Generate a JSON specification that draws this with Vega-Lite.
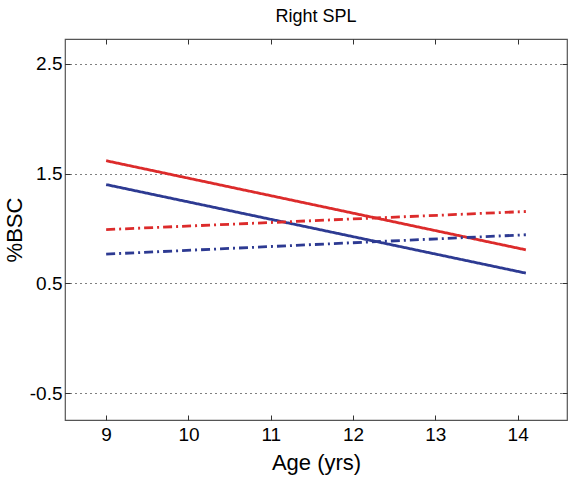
{
  "$schema": "https://vega.github.io/schema/vega-lite/v6.json",
  "width": 502,
  "height": 381,
  "autosize": {"type": "none"},
  "padding": {"left": 65, "top": 39, "right": 9, "bottom": 62},
  "background": "white",
  "title": {"text": "Right SPL", "anchor": "middle", "fontSize": 18, "fontWeight": "normal", "font": "Liberation Sans", "color": "black", "offset": 13},
  "config": {
    "font": "Liberation Sans",
    "view": {"stroke": "#555555", "strokeWidth": 1.2},
    "axis": {"domain": false, "labelFont": "Liberation Sans", "labelFontSize": 19, "labelColor": "black", "titleFont": "Liberation Sans", "titleFontSize": 22, "titleFontWeight": "normal", "titleColor": "black", "tickColor": "#333333", "tickSize": -5, "tickWidth": 1}
  },
  "data": {
    "values": [
      {"age": 9, "bsc": 1.617, "group": "red", "style": "solid", "series": "red-solid"},
      {"age": 14.1, "bsc": 0.806, "group": "red", "style": "solid", "series": "red-solid"},
      {"age": 9, "bsc": 1.40, "group": "blue", "style": "solid", "series": "blue-solid"},
      {"age": 14.1, "bsc": 0.594, "group": "blue", "style": "solid", "series": "blue-solid"},
      {"age": 9, "bsc": 0.99, "group": "red", "style": "dashdot", "series": "red-dashdot"},
      {"age": 14.1, "bsc": 1.155, "group": "red", "style": "dashdot", "series": "red-dashdot"},
      {"age": 9, "bsc": 0.767, "group": "blue", "style": "dashdot", "series": "blue-dashdot"},
      {"age": 14.1, "bsc": 0.943, "group": "blue", "style": "dashdot", "series": "blue-dashdot"}
    ]
  },
  "layer": [
    {
      "mark": {"type": "line", "strokeWidth": 2.8, "strokeCap": "butt"},
      "encoding": {
        "x": {"field": "age", "type": "quantitative", "scale": {"domain": [8.5, 14.6], "nice": false, "zero": false}, "axis": {"title": "Age (yrs)", "values": [9, 10, 11, 12, 13, 14], "grid": false, "labelPadding": 10, "titlePadding": 8}},
        "y": {"field": "bsc", "type": "quantitative", "scale": {"domain": [-0.743, 2.725], "nice": false, "zero": false}, "axis": {"title": "%BSC", "values": [-0.5, 0.5, 1.5, 2.5], "grid": true, "gridColor": "black", "gridDash": [1, 4], "gridWidth": 1, "labelPadding": 8, "titlePadding": 3, "labelExpr": "datum.value < 0 ? '-' + format(-datum.value, '.1f') : format(datum.value, '.1f')"}},
        "color": {"field": "group", "type": "nominal", "scale": {"domain": ["red", "blue"], "range": ["#dc2b2b", "#2d3a92"]}, "legend": null},
        "strokeDash": {"field": "style", "type": "nominal", "scale": {"domain": ["solid", "dashdot"], "range": [[1, 0], [9, 4, 2, 4]]}, "legend": null},
        "detail": {"field": "series"}
      }
    },
    {
      "mark": {"type": "line", "opacity": 0},
      "encoding": {
        "x": {"field": "age", "type": "quantitative", "axis": {"orient": "top", "title": null, "labels": false, "values": [9, 10, 11, 12, 13, 14], "grid": false}},
        "y": {"field": "bsc", "type": "quantitative", "axis": {"orient": "right", "title": null, "labels": false, "values": [-0.5, 0.5, 1.5, 2.5], "grid": false}},
        "detail": {"field": "series"}
      }
    }
  ],
  "resolve": {"axis": {"x": "independent", "y": "independent"}}
}
